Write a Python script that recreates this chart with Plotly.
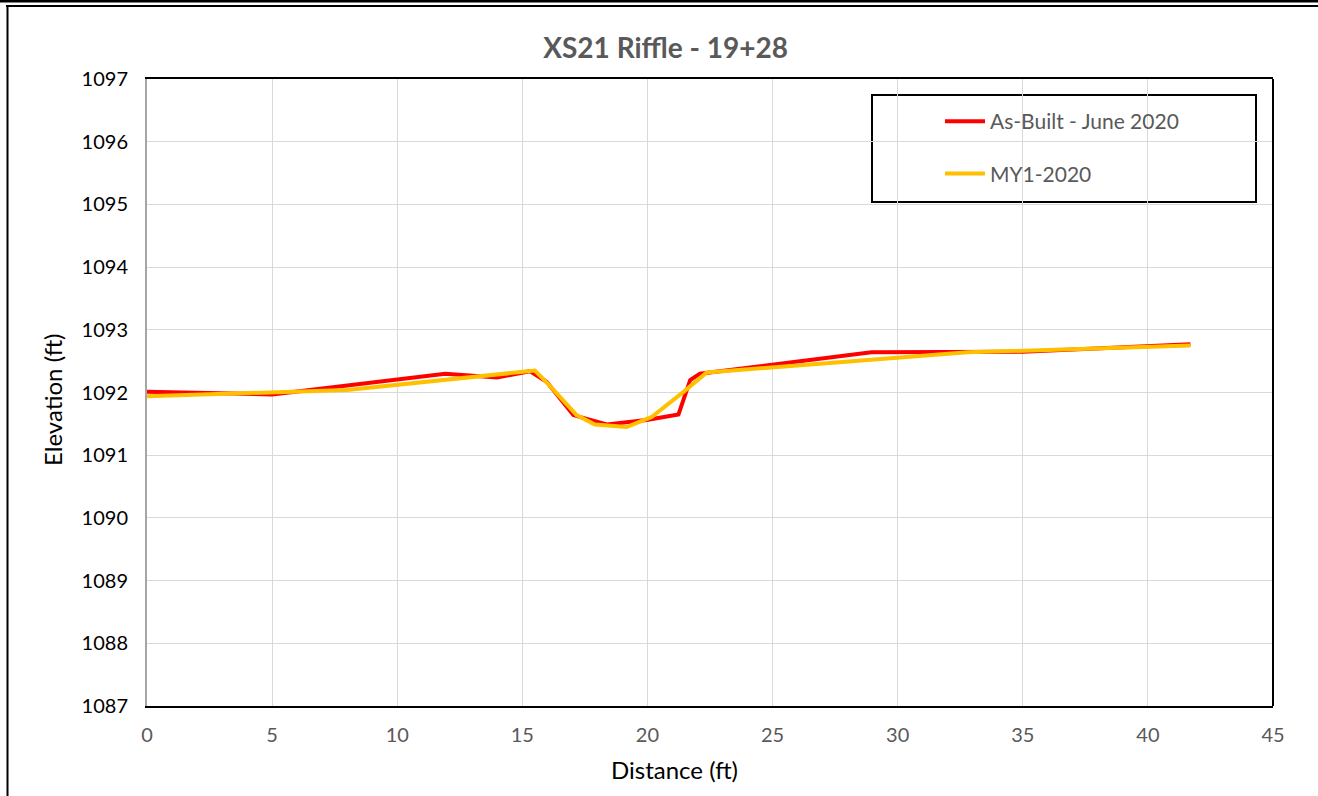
import plotly.graph_objects as go

# Data
asbuilt_x = [0, 5, 11.92, 13.99, 15.3, 15.97, 17.04, 18.37, 19.97, 21.24, 21.71, 22.1, 28.95, 35.0, 41.7]
asbuilt_y = [1092.01, 1091.97, 1092.30, 1092.24, 1092.34, 1092.17, 1091.64, 1091.49, 1091.56, 1091.65,
             1092.20, 1092.30, 1092.64, 1092.65, 1092.77]

my1_x = [0, 5, 8, 15.5, 16.0, 17.17, 17.9, 19.17, 20.17, 21.44, 22.37, 32.8, 41.7]
my1_y = [1091.94, 1092.0, 1092.04, 1092.35, 1092.15, 1091.64, 1091.49, 1091.45, 1091.61, 1092.01,
         1092.32, 1092.64, 1092.75]

x_ticks = [0, 5, 10, 15, 20, 25, 30, 35, 40, 45]
y_ticks = [1087, 1088, 1089, 1090, 1091, 1092, 1093, 1094, 1095, 1096, 1097]

FONT = "Lato"

W, H = 1318, 796
pl, pb, pw, ph = 147, 90, 1126, 627
def px2paper_x(px):
    return (px - pl) / pw
def py2paper_y(py):
    return (H - pb - py) / ph

fig = go.Figure()
fig.add_trace(go.Scatter(x=asbuilt_x, y=asbuilt_y, mode="lines", name="As-Built - June 2020",
                         line=dict(color="#FF0000", width=4), legendgroup="a"))
fig.add_trace(go.Scatter(x=my1_x, y=my1_y, mode="lines", name="MY1-2020",
                         line=dict(color="#FFC000", width=4), legendgroup="b"))

fig.update_layout(
    width=W, height=H,
    margin=dict(l=147, r=45, t=79, b=90),
    paper_bgcolor="white", plot_bgcolor="white",
    font=dict(family=FONT, color="black"),
    title=dict(text="<b>XS21 Riffle - 19+28</b>", x=0.505, xanchor="center", y=1 - 48 / H, yanchor="middle",
               xref="container", yref="container",
               font=dict(family=FONT, size=28, color="#595959")),
    xaxis=dict(range=[0, 45], tickvals=x_ticks, showgrid=True, gridcolor="#D9D9D9", gridwidth=1,
               showline=True, linecolor="black", linewidth=2, mirror=True,
               ticks="outside", ticklen=10, tickcolor="rgba(0,0,0,0)",
               tickfont=dict(family=FONT, size=20, color="#595959"),
               zeroline=False),
    yaxis=dict(range=[1087, 1097], tickvals=y_ticks, showgrid=True, gridcolor="#D9D9D9", gridwidth=1,
               showline=True, linecolor="#A6A6A6", linewidth=2,
               ticks="outside", ticklen=13, tickcolor="rgba(0,0,0,0)",
               tickfont=dict(family=FONT, size=20, color="black"),
               zeroline=False),
    legend=dict(x=px2paper_x(940), y=py2paper_y(101), xanchor="left", yanchor="top",
                bgcolor="rgba(0,0,0,0)", borderwidth=0,
                font=dict(family=FONT, size=21, color="#595959"),
                tracegroupgap=22, itemwidth=40),
    showlegend=True,
    annotations=[
        dict(text="Distance (ft)", xref="paper", yref="paper",
             x=px2paper_x(674), y=py2paper_y(769), xanchor="center", yanchor="middle",
             showarrow=False, font=dict(family=FONT, size=24, color="black")),
        dict(text="Elevation (ft)", xref="paper", yref="paper", textangle=-90,
             x=px2paper_x(52), y=py2paper_y(400), xanchor="center", yanchor="middle",
             showarrow=False, font=dict(family=FONT, size=24, color="black")),
    ],
)

shapes = [
    dict(type="line", xref="paper", yref="paper", x0=1, x1=1, y0=0, y1=1,
         line=dict(color="black", width=2)),
    dict(type="rect", xref="paper", yref="paper", x0=px2paper_x(872), x1=px2paper_x(1256),
         y0=py2paper_y(202), y1=py2paper_y(95),
         line=dict(color="black", width=2), fillcolor="white", layer="below"),
    dict(type="line", xref="paper", yref="paper",
         x0=px2paper_x(0), x1=px2paper_x(W), y0=py2paper_y(1), y1=py2paper_y(1),
         line=dict(color="black", width=3)),
    dict(type="line", xref="paper", yref="paper",
         x0=px2paper_x(6), x1=px2paper_x(W), y0=py2paper_y(6), y1=py2paper_y(6),
         line=dict(color="black", width=2)),
    dict(type="line", xref="paper", yref="paper",
         x0=px2paper_x(7.5), x1=px2paper_x(7.5), y0=py2paper_y(6), y1=py2paper_y(H),
         line=dict(color="black", width=2)),
]
fig.update_layout(shapes=shapes)

fig.write_html("out.html")
